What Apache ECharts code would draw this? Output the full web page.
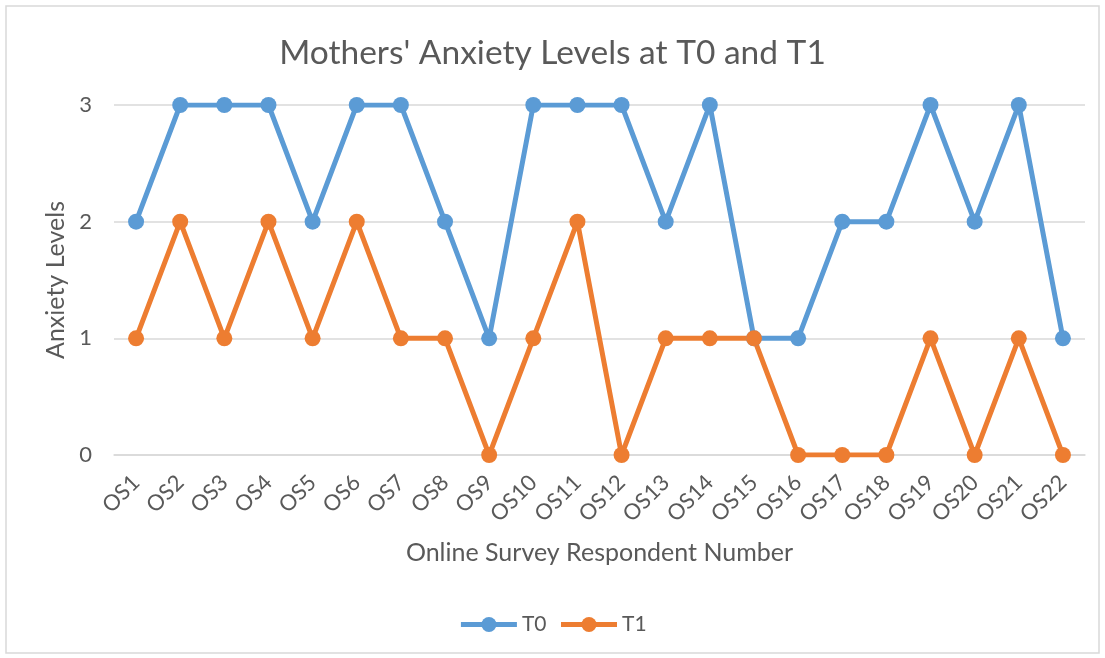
<!DOCTYPE html>
<html>
<head>
<meta charset="utf-8">
<script src="https://cdn.jsdelivr.net/npm/echarts@6/dist/echarts.min.js"></script>
<style>
  html, body { margin: 0; padding: 0; background: #fff; }
  #chart { width: 1105px; height: 658px; }
</style>
</head>
<body>
<div id="chart"></div>
<script>
// respondents
const categories = ["OS1", "OS2", "OS3", "OS4", "OS5", "OS6", "OS7", "OS8", "OS9", "OS10", "OS11",
  "OS12", "OS13", "OS14", "OS15", "OS16", "OS17", "OS18", "OS19", "OS20", "OS21", "OS22"];
// anxiety levels
const t0 = [2, 3, 3, 3, 2, 3, 3, 2, 1, 3, 3, 3, 2, 3, 1, 1, 2, 2, 3, 2, 3, 1];
const t1 = [1, 2, 1, 2, 1, 2, 1, 1, 0, 1, 2, 0, 1, 1, 1, 0, 0, 0, 1, 0, 1, 0];
const yTicks = [0, 1, 2, 3];

const textColor = "#595959";
const font = "Lato";

const chart = echarts.init(document.getElementById("chart"));

const makeSeries = (name, data, color) => ({
  name: name,
  type: "line",
  data: data,
  symbol: "circle",
  symbolSize: 16,
  lineStyle: { width: 5, color: color },
  itemStyle: { color: color },
  emphasis: { disabled: true },
});

chart.setOption({
  animation: false,
  textStyle: { fontFamily: font, color: textColor },
  graphic: [
    {
      type: "rect",
      shape: { x: 6, y: 6, width: 1093, height: 647 },
      style: { fill: "none", stroke: "#d9d9d9", lineWidth: 1.5 },
      silent: true,
    },
  ],
  title: {
    text: "Mothers' Anxiety Levels at T0 and T1",
    left: "center",
    top: 31,
    textStyle: { fontFamily: font, fontSize: 33.5, fontWeight: "normal", color: textColor },
  },
  grid: { left: 114, right: 20, top: 105, bottom: 203 },
  legend: {
    bottom: 18,
    left: "center",
    itemWidth: 56,
    itemHeight: 19,
    itemGap: 12,
    lineStyle: { width: 5 },
    textStyle: { fontFamily: font, fontSize: 21, color: textColor },
    data: ["T0", "T1"],
  },
  xAxis: {
    type: "category",
    data: categories,
    boundaryGap: true,
    name: "Online Survey Respondent Number",
    nameLocation: "middle",
    nameGap: 85,
    nameTextStyle: { fontFamily: font, fontSize: 25, color: textColor },
    axisLine: { lineStyle: { color: "#d9d9d9", width: 1.5 } },
    axisTick: { show: false },
    axisLabel: {
      rotate: 45,
      margin: 24,
      interval: 0,
      fontFamily: font,
      fontSize: 22,
      color: textColor,
    },
  },
  yAxis: {
    type: "value",
    min: yTicks[0],
    max: yTicks[yTicks.length - 1],
    interval: 1,
    name: "Anxiety Levels",
    nameLocation: "middle",
    nameGap: 44,
    nameTextStyle: { fontFamily: font, fontSize: 25, color: textColor },
    axisLine: { show: false },
    axisTick: { show: false },
    axisLabel: { margin: 22, fontFamily: font, fontSize: 22, color: textColor },
    splitLine: { lineStyle: { color: "#d9d9d9", width: 1.5 } },
  },
  series: [makeSeries("T0", t0, "#5B9BD5"), makeSeries("T1", t1, "#ED7D31")],
});
</script>
</body>
</html>
